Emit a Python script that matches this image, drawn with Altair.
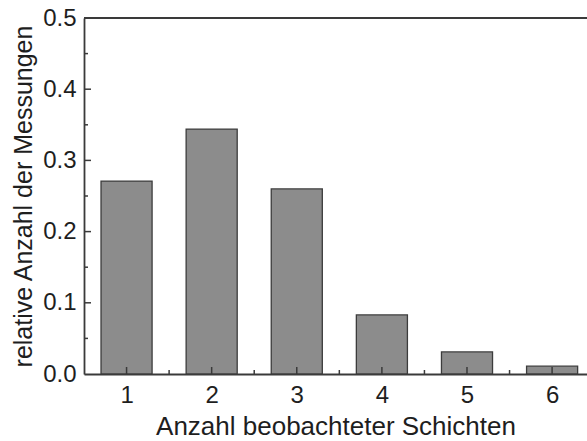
import altair as alt
import pandas as pd

# Relative frequency of the number of observed layers
layers = [1, 2, 3, 4, 5, 6]
rel_count = [0.271, 0.344, 0.260, 0.083, 0.031, 0.011]

x_major = [1, 2, 3, 4, 5, 6]
x_minor = [1.5, 2.5, 3.5, 4.5, 5.5]
y_major = [0.1, 0.2, 0.3, 0.4]
y_minor = [0.05, 0.15, 0.25, 0.35, 0.45]

BAR_HALF = 0.3
AXIS_COLOR = "#3a3a3a"
TEXT_COLOR = "#1e1e1e"
FONT = "Liberation Sans"

W, H = 503, 356

bars_df = pd.DataFrame({"n": layers, "v": rel_count})
bars_df["lo"] = bars_df["n"] - BAR_HALF
bars_df["hi"] = bars_df["n"] + BAR_HALF

xs = alt.Scale(domain=[0.5, 6.41], nice=False, zero=False)
ys = alt.Scale(domain=[0, 0.5], nice=False)

bars = alt.Chart(bars_df).mark_bar(
    color="#8c8c8c", stroke="#3c3c3c", strokeWidth=1.3
).encode(
    x=alt.X(
        "lo:Q",
        scale=xs,
        axis=alt.Axis(
            values=x_major,
            format="d",
            title="Anzahl beobachteter Schichten",
            ticks=False,
            grid=False,
            domainColor=AXIS_COLOR,
            domainWidth=1.8,
            labelFontSize=24,
            labelPadding=9,
            labelColor=TEXT_COLOR,
            labelFont=FONT,
            titleFont=FONT,
            titleFontSize=26,
            titleFontWeight="normal",
            titleColor=TEXT_COLOR,
            titlePadding=6,
        ),
    ),
    x2="hi:Q",
    y=alt.Y(
        "v:Q",
        scale=ys,
        axis=alt.Axis(
            values=[0, 0.1, 0.2, 0.3, 0.4, 0.5],
            format=".1f",
            title="relative Anzahl der Messungen",
            ticks=False,
            grid=False,
            domainColor=AXIS_COLOR,
            domainWidth=1.8,
            labelFontSize=24,
            labelPadding=8,
            labelColor=TEXT_COLOR,
            labelFont=FONT,
            titleFont=FONT,
            titleFontSize=25,
            titleFontWeight="normal",
            titleColor=TEXT_COLOR,
            titlePadding=6,
        ),
    ),
    y2=alt.datum(0),
)

# Top frame line
top = alt.Chart(pd.DataFrame({"t": [0.5]})).mark_rule(
    color=AXIS_COLOR, strokeWidth=1.8
).encode(y=alt.Y("t:Q", scale=ys), x=alt.value(0), x2=alt.value(W))

# Inward tick marks on the bottom axis
xt_major = alt.Chart(pd.DataFrame({"x": x_major})).mark_rule(
    color=AXIS_COLOR, strokeWidth=1.5
).encode(x=alt.X("x:Q", scale=xs), y=alt.value(H), y2=alt.value(H - 7))
xt_minor = alt.Chart(pd.DataFrame({"x": x_minor})).mark_rule(
    color=AXIS_COLOR, strokeWidth=1.5
).encode(x=alt.X("x:Q", scale=xs), y=alt.value(H), y2=alt.value(H - 4))

# Inward tick marks on the left axis
yt_major = alt.Chart(pd.DataFrame({"y": y_major})).mark_rule(
    color=AXIS_COLOR, strokeWidth=1.5
).encode(y=alt.Y("y:Q", scale=ys), x=alt.value(0), x2=alt.value(7))
yt_minor = alt.Chart(pd.DataFrame({"y": y_minor})).mark_rule(
    color=AXIS_COLOR, strokeWidth=1.5
).encode(y=alt.Y("y:Q", scale=ys), x=alt.value(0), x2=alt.value(4))

chart = alt.layer(bars, top, xt_major, xt_minor, yt_major, yt_minor).properties(
    width=W,
    height=H,
    autosize=alt.AutoSizeParams(type="none"),
    padding={"left": 84, "top": 18, "right": 0, "bottom": 67},
).configure_view(stroke=None).configure(background="white")

chart.save("out.html", embed_options={"renderer": "svg", "actions": False})
